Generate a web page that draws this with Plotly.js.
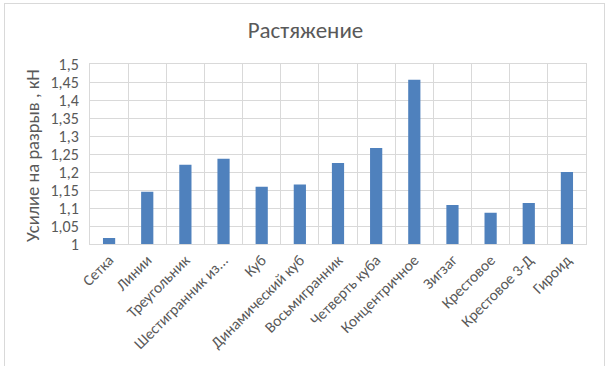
<!DOCTYPE html>
<html>
<head>
<meta charset="utf-8">
<script src="https://cdn.plot.ly/plotly-3.0.1.min.js"></script>
<style>
html,body{margin:0;padding:0;background:#fff;}
#wrap{position:relative;width:611px;height:366px;}
#chart{position:absolute;left:0;top:0;width:611px;height:366px;}
#frame{position:absolute;left:4px;top:3px;width:599px;height:370px;border:1px solid #d9d9d9;border-bottom:none;pointer-events:none;}
</style>
</head>
<body>
<div id="wrap"><div id="chart"></div><div id="frame"></div></div>
<script>
const categories = ["Сетка","Линии","Треугольник","Шестигранник из...","Куб","Динамический куб","Восьмигранник","Четверть куба","Концентричное","Зигзаг","Крестовое","Крестовое 3-Д","Гироид"];
const values = [1.017,1.145,1.22,1.237,1.159,1.165,1.225,1.267,1.456,1.108,1.087,1.114,1.2];
const yTickVals = [1,1.05,1.1,1.15,1.2,1.25,1.3,1.35,1.4,1.45,1.5];
const yTitle = 'Усилие на разрыв , кН';

const font = "Calibri, Carlito, 'Open Sans', 'Liberation Sans', sans-serif";
Plotly.newPlot('chart', [{
  type:'bar', x:categories, y:values,
  marker:{color:'#4f81bd'}, hoverinfo:'x+y'
}], {
  width:611, height:366,
  margin:{l:90, r:25, t:64, b:122},
  separators:', ',
  paper_bgcolor:'#fff', plot_bgcolor:'#fff',
  bargap:0.68,
  title:{text:'Растяжение', font:{family:font, size:23, color:'#595959'}, x:0.5, xanchor:'center', y:0.918, yanchor:'middle'},
  font:{family:font, color:'#595959', size:12},
  xaxis:{type:'category', tickson:'boundaries', showgrid:true, gridcolor:'#d9d9d9', gridwidth:1,
         showline:true, linecolor:'#d9d9d9', mirror:true, ticks:'', tickangle:-45,
         tickfont:{size:15.5, color:'#595959'}},
  yaxis:{range:[1,1.5], tickvals:yTickVals, showgrid:true, gridcolor:'#d9d9d9', gridwidth:1,
         showline:true, linecolor:'#d9d9d9', mirror:true, ticks:'outside', ticklen:7, tickcolor:'rgba(0,0,0,0)', zeroline:false,
         tickfont:{size:16, color:'#595959'}},
  annotations:[{text:yTitle, xref:'paper', yref:'paper', x:-0.116, y:0.492, xanchor:'center', yanchor:'middle',
                textangle:-90, showarrow:false, font:{size:18.5, color:'#595959'}}],
  showlegend:false
}, {displayModeBar:false, staticPlot:true});
</script>
</body>
</html>
